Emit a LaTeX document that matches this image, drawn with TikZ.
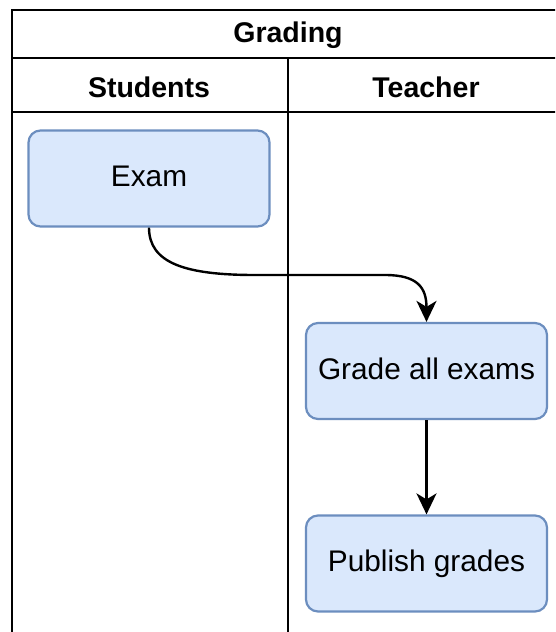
\documentclass[tikz,border=0pt]{standalone}
\usepackage{fontspec}
\setmainfont{Liberation Sans}
\usetikzlibrary{arrows.meta}
\definecolor{boxfill}{HTML}{DAE8FC}
\definecolor{boxline}{HTML}{6C8EBF}
\begin{document}
\begin{tikzpicture}[x=1pt,y=-1pt,
  lane/.style={draw=black,line width=2.6pt},
  hdr/.style={font=\fontsize{28.5}{34}\selectfont\bfseries,inner sep=0pt},
  stepbox/.style={draw=boxline,fill=boxfill,line width=2.2pt,rounded corners=12pt,
    minimum width=241pt,minimum height=96pt,inner sep=0pt,font=\fontsize{29.8}{36}\selectfont,
    text height=20pt,text depth=3.6pt},
  flow/.style={line width=2.4pt,-{Stealth[length=21pt,width=20pt,inset=6pt]}}]
\clip (0,0) rectangle (555,632);
\fill[white] (0,0) rectangle (555,632);
% pool frame
\draw[lane] (12,10) rectangle (564,660);
\draw[lane] (12,58) -- (564,58);
\draw[lane] (12,112) -- (564,112);
\draw[lane] (288,58) -- (288,660);
\node[hdr] (title) at (288,35) {Grading};
\node[hdr] (students) at (149,87) {Students};
\node[hdr] (teacher) at (426,87) {Teacher};
% steps
\node[stepbox] (exam) at (149,178.5) {Exam};
\node[stepbox] (grade) at (426.5,371) {Grade all exams};
\node[stepbox] (publish) at (426.5,563.5) {Publish grades};
% connectors
\draw[flow] (exam.south) .. controls (149,263) and (185,275) .. (255,275)
  -- (385,275) .. controls (418,275) and (426.5,288) .. (grade.north);
\draw[flow] (grade.south) -- (publish.north);
\end{tikzpicture}
\end{document}
